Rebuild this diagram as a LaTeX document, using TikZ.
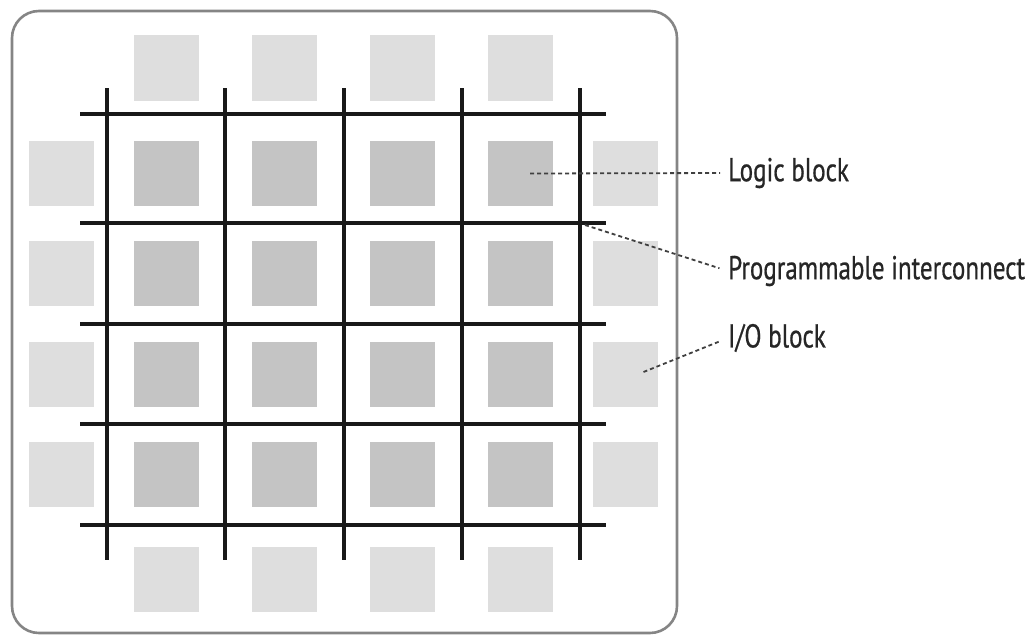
\documentclass[tikz,border=0pt]{standalone}
\usepackage{fontspec}
\newfontfamily\labelfont[FakeStretch=0.76,FakeBold=0.6]{PT Sans}
\usetikzlibrary{positioning}
\definecolor{logicgray}{HTML}{C4C4C4}
\definecolor{iogray}{HTML}{DEDEDE}
\definecolor{framegray}{HTML}{858585}

\begin{document}
\begin{tikzpicture}[x=1pt, y=-1pt,
  logic block/.style={fill=logicgray, minimum size=65pt, inner sep=0pt},
  io block/.style={fill=iogray, minimum size=65pt, inner sep=0pt},
  wire/.style={line width=3.4pt, black!90},
  leader/.style={dash pattern=on 4pt off 3pt, line width=1.8pt, black!75},
  callout/.style={font=\labelfont\fontsize{33}{35}\selectfont, anchor=west, inner sep=0pt, text=black!85}]
\useasboundingbox (0,0) rectangle (1032,634);
\draw[framegray, line width=2.6pt, rounded corners=27pt] (12,11) rectangle (677,633);

% logic blocks and I/O ring
\foreach \c [count=\j] in {166,284,402,520} {
  \foreach \r [count=\i] in {173.5,273.5,374,474.5}
    \node[logic block] (lb-\i-\j) at (\c,\r) {};
  \node[io block] (io-t-\j) at (\c,68) {};
  \node[io block] (io-b-\j) at (\c,579.5) {};
}
\foreach \r [count=\i] in {173.5,273.5,374,474.5} {
  \node[io block] (io-l-\i) at (61,\r) {};
  \node[io block] (io-r-\i) at (625.5,\r) {};
}

% routing grid
\foreach \x in {107,225,344,462,580}
  \draw[wire] (\x,88) -- (\x,560);
\foreach \y in {114,223,324,424,525}
  \draw[wire] (80,\y) -- (606,\y);

\node[callout] (logic) at (728,173) {Logic block};
\node[callout] (inter) at (728,271) {Programmable interconnect};
\node[callout] (io) at (728,338) {I/O block};

\coordinate (cross) at (585,225);
\coordinate (io-pt) at ([xshift=18pt,yshift=2pt]io-r-3.center);
\draw[leader, shorten >=8pt] ([xshift=10pt]lb-1-4.center) -- (logic.west);
\draw[leader, shorten >=9pt] (cross) -- (inter.west);
\draw[leader, shorten >=8pt] (io-pt) -- (io.west);
\end{tikzpicture}
\end{document}
